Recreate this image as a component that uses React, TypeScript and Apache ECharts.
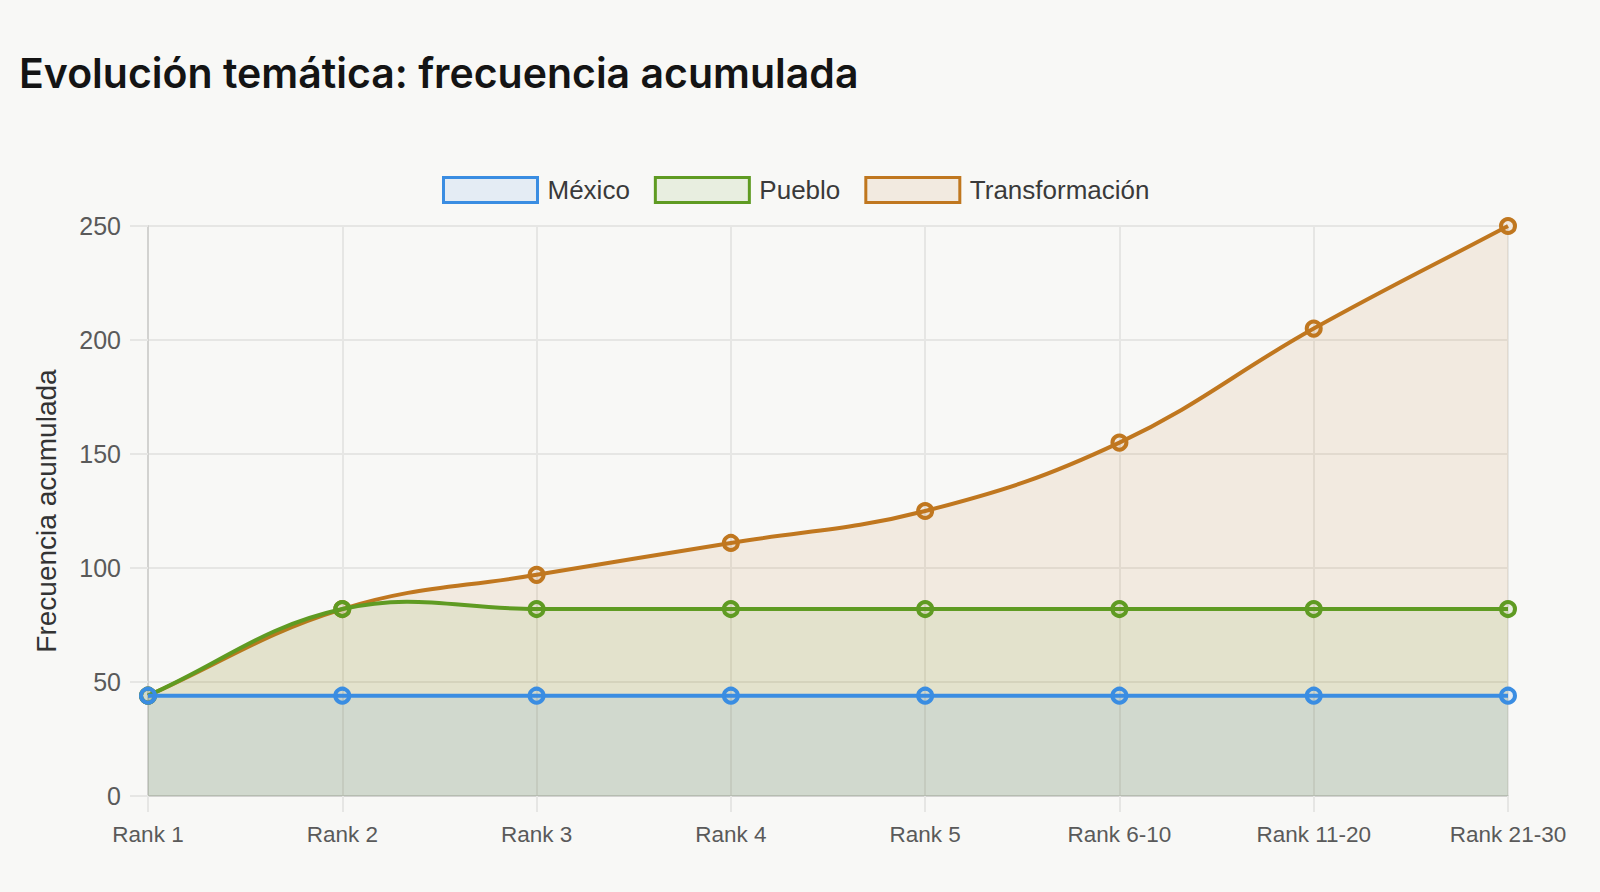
import React from 'react';
import * as echarts from 'echarts';

const categories = ['Rank 1', 'Rank 2', 'Rank 3', 'Rank 4', 'Rank 5', 'Rank 6-10', 'Rank 11-20', 'Rank 21-30'];
const mexico = [44, 44, 44, 44, 44, 44, 44, 44];
const pueblo = [44, 82, 82, 82, 82, 82, 82, 82];
const transformacion = [44, 82, 97, 111, 125, 155, 205, 250];
const yTicks = [0, 50, 100, 150, 200, 250];

const BLUE = '#3a8de2';
const GREEN = '#5f9b22';
const ORANGE = '#c0771f';
const BLUE_FILL = 'rgba(58,141,226,0.1)';
const GREEN_FILL = 'rgba(95,155,34,0.1)';
const ORANGE_FILL = 'rgba(192,119,31,0.1)';

const FONT = '"Liberation Sans", Arial, Helvetica, sans-serif';
const TENSION = 0.4;

// spline like the original (tension 0.4, no clamping of control points)
const buildPath = (pts: number[][]) => {
  const n = pts.length;
  const cps = pts.map((cur, i) => {
    const prev = pts[Math.max(i - 1, 0)];
    const next = pts[Math.min(i + 1, n - 1)];
    const d01 = Math.hypot(cur[0] - prev[0], cur[1] - prev[1]);
    const d12 = Math.hypot(next[0] - cur[0], next[1] - cur[1]);
    const s01 = d01 + d12 ? d01 / (d01 + d12) : 0;
    const s12 = d01 + d12 ? d12 / (d01 + d12) : 0;
    const fa = TENSION * s01;
    const fb = TENSION * s12;
    return {
      before: [cur[0] - fa * (next[0] - prev[0]), cur[1] - fa * (next[1] - prev[1])],
      after: [cur[0] + fb * (next[0] - prev[0]), cur[1] + fb * (next[1] - prev[1])],
    };
  });
  let d = `M${pts[0][0]},${pts[0][1]}`;
  for (let i = 1; i < n; i++) {
    const a = cps[i - 1].after;
    const b = cps[i].before;
    d += ` C${a[0]},${a[1]} ${b[0]},${b[1]} ${pts[i][0]},${pts[i][1]}`;
  }
  return d;
};

const curveSeries = (name: string, values: number[], color: string, fill: string, z: number) => ({
  name,
  type: 'custom' as const,
  coordinateSystem: 'cartesian2d',
  z,
  silent: true,
  data: [[0, values[0]]],
  renderItem: (_params: any, api: any) => {
    const pts = values.map((v, i) => api.coord([i, v]));
    const base = api.coord([0, 0])[1];
    const line = buildPath(pts);
    const last = pts[pts.length - 1];
    const area = `${line} L${last[0]},${base} L${pts[0][0]},${base} Z`;
    return {
      type: 'group',
      children: [
        { type: 'path', shape: { pathData: area }, style: { fill, stroke: 'none' } },
        { type: 'path', shape: { pathData: line }, style: { fill: 'none', stroke: color, lineWidth: 4 } },
      ],
    };
  },
});

const markerSeries = (name: string, values: number[], color: string, fill: string, z: number) => ({
  name,
  type: 'line' as const,
  data: values,
  z,
  symbol: 'circle',
  symbolSize: 14,
  showSymbol: true,
  lineStyle: { width: 0, opacity: 0 },
  itemStyle: { color: fill, borderColor: color, borderWidth: 4 },
  emphasis: { disabled: true },
  silent: true,
});

const App: React.FC = () => {
  const chartRef = React.useRef<HTMLDivElement>(null);

  React.useEffect(() => {
    if (!chartRef.current) return;
    const chart = echarts.init(chartRef.current, undefined, { renderer: 'svg' });

    chart.setOption({
      animation: false,
      backgroundColor: '#f8f8f6',
      textStyle: { fontFamily: FONT },
      title: {
        text: 'Evolución temática: frecuencia acumulada',
        left: 14,
        top: 47,
        textStyle: {
          fontFamily: 'Inter, "Liberation Sans", sans-serif',
          fontSize: 41,
          fontWeight: 600,
          color: '#141414',
        },
      },
      legend: {
        left: 437,
        top: 171,
        itemWidth: 94,
        itemHeight: 25,
        itemGap: 24,
        selectedMode: false,
        textStyle: { fontSize: 26, color: '#3a3a3a', fontFamily: FONT, padding: [0, 0, 0, 5] },
        data: [
          { name: 'México', icon: 'rect', itemStyle: { color: BLUE_FILL, borderColor: BLUE, borderWidth: 3 } },
          { name: 'Pueblo', icon: 'rect', itemStyle: { color: GREEN_FILL, borderColor: GREEN, borderWidth: 3 } },
          { name: 'Transformación', icon: 'rect', itemStyle: { color: ORANGE_FILL, borderColor: ORANGE, borderWidth: 3 } },
        ],
      },
      grid: { left: 148, right: 92, top: 226, bottom: 96 },
      xAxis: {
        type: 'category',
        data: categories,
        boundaryGap: false,
        axisLine: { show: true, lineStyle: { color: '#d2d2d0', width: 2 } },
        axisTick: { show: true, length: 16, lineStyle: { color: '#e6e6e4', width: 2 } },
        splitLine: { show: true, lineStyle: { color: '#e6e6e4', width: 2 } },
        axisLabel: { fontSize: 22.5, color: '#5a5a5a', margin: 27, interval: 0 },
      },
      yAxis: {
        type: 'value',
        min: yTicks[0],
        max: yTicks[yTicks.length - 1],
        interval: 50,
        name: 'Frecuencia acumulada',
        nameLocation: 'middle',
        nameGap: 88,
        nameTextStyle: { fontSize: 28, color: '#333333', fontFamily: FONT },
        axisLine: { show: true, lineStyle: { color: '#d2d2d0', width: 2 } },
        axisTick: { show: true, length: 18, lineStyle: { color: '#e6e6e4', width: 2 } },
        splitLine: { show: true, lineStyle: { color: '#e6e6e4', width: 2 } },
        axisLabel: { fontSize: 25, color: '#5a5a5a', margin: 27 },
      },
      series: [
        curveSeries('Transformación', transformacion, ORANGE, ORANGE_FILL, 2),
        markerSeries('Transformación', transformacion, ORANGE, ORANGE_FILL, 3),
        curveSeries('Pueblo', pueblo, GREEN, GREEN_FILL, 4),
        markerSeries('Pueblo', pueblo, GREEN, GREEN_FILL, 5),
        curveSeries('México', mexico, BLUE, BLUE_FILL, 6),
        markerSeries('México', mexico, BLUE, BLUE_FILL, 7),
      ],
    });

    return () => {
      chart.dispose();
    };
  }, []);

  return (
    <div
      ref={chartRef}
      style={{ position: 'fixed', left: 0, top: 0, width: '1600px', height: '892px' }}
    />
  );
};

export default App;
